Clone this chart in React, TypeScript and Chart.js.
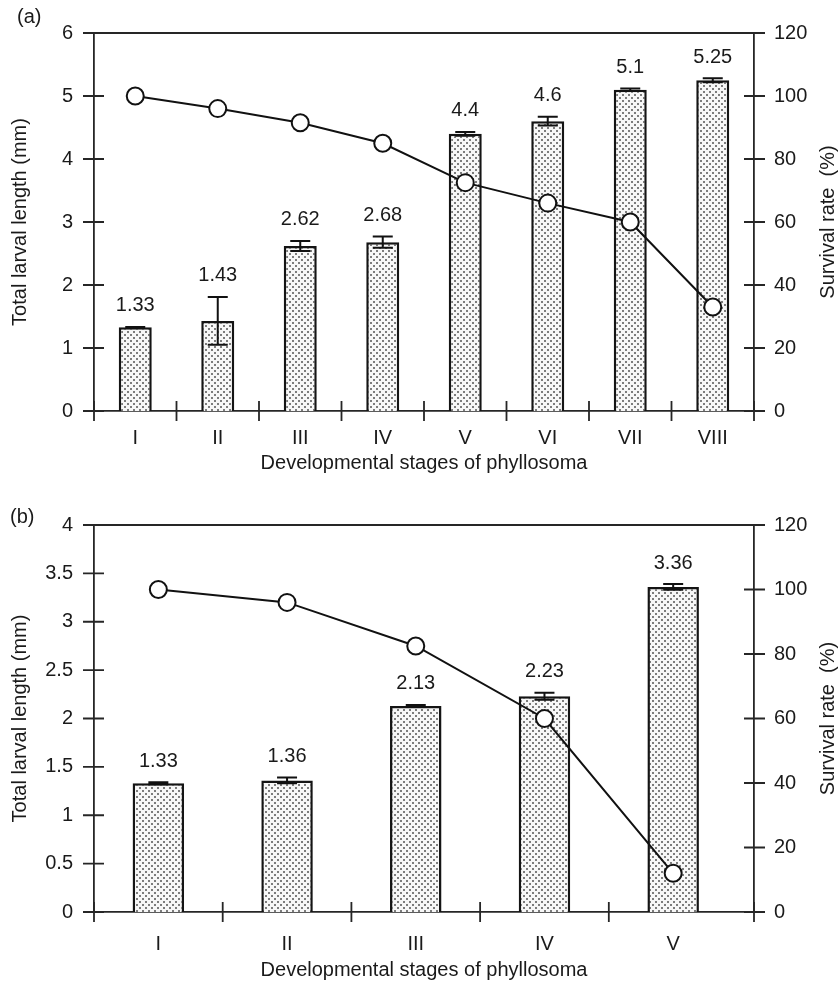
import React, { useEffect, useRef } from 'react';
import { Chart, registerables } from 'chart.js';

Chart.register(...registerables);

// ---------- data ----------
const stagesA = ['I', 'II', 'III', 'IV', 'V', 'VI', 'VII', 'VIII'];
const lengthA = [1.33, 1.43, 2.62, 2.68, 4.4, 4.6, 5.1, 5.25];
const lengthLabelsA = ['1.33', '1.43', '2.62', '2.68', '4.4', '4.6', '5.1', '5.25'];
const errorA = [0.005, 0.38, 0.08, 0.09, 0.03, 0.07, 0.02, 0.03];
const survivalA = [100, 96, 91.5, 85, 72.5, 66, 60, 33];
const leftTicksA = [0, 1, 2, 3, 4, 5, 6];

const stagesB = ['I', 'II', 'III', 'IV', 'V'];
const lengthB = [1.33, 1.36, 2.13, 2.23, 3.36];
const lengthLabelsB = ['1.33', '1.36', '2.13', '2.23', '3.36'];
const errorB = [0.01, 0.03, 0.01, 0.035, 0.03];
const survivalB = [100, 96, 82.5, 60, 12];
const leftTicksB = [0, 0.5, 1, 1.5, 2, 2.5, 3, 3.5, 4];

const rightTicks = [0, 20, 40, 60, 80, 100, 120];

const xTitle = 'Developmental stages of phyllosoma';
const yTitle = 'Total larval length (mm)';
const y2Title = 'Survival rate  (%)';

// ---------- style ----------
const FONT_FAMILY = '"Liberation Sans", Arial, Helvetica, sans-serif';
const TEXT = '#1a1a1a';
const AXIS = '#262626';
const AXIS_W = 1.8;

type Panel = {
  tag: string;
  tagX: number;
  tagY: number;
  stages: string[];
  lengths: number[];
  labels: string[];
  errors: number[];
  survival: number[];
  leftTicks: number[];
  xMax: number;
  padTop: number;
  xHeight: number;
  xLabelPad: number;
  xTitlePad: number;
};

const panelA: Panel = {
  tag: '(a)', tagX: 17, tagY: 17,
  stages: stagesA, lengths: lengthA, labels: lengthLabelsA, errors: errorA, survival: survivalA,
  leftTicks: leftTicksA, xMax: 8.5,
  padTop: 17, xHeight: 81, xLabelPad: 15, xTitlePad: 17,
};

const panelB: Panel = {
  tag: '(b)', tagX: 10, tagY: 25,
  stages: stagesB, lengths: lengthB, labels: lengthLabelsB, errors: errorB, survival: survivalB,
  leftTicks: leftTicksB, xMax: 5.628,
  padTop: 24, xHeight: 72, xLabelPad: 20, xTitlePad: 2,
};

function makePattern(): CanvasPattern | string {
  const c = document.createElement('canvas');
  c.width = 6;
  c.height = 6;
  const g = c.getContext('2d');
  if (!g) return '#ddd';
  g.fillStyle = '#f7f7f7';
  g.fillRect(0, 0, 6, 6);
  g.fillStyle = '#7c7c7c';
  g.fillRect(1, 1, 2, 2);
  g.fillRect(4, 4, 2, 2);
  const p = g.createPattern(c, 'repeat');
  return p || '#ddd';
}

function PanelChart({ panel }: { panel: Panel }) {
  const ref = useRef<HTMLCanvasElement | null>(null);

  useEffect(() => {
    const canvas = ref.current;
    if (!canvas) return;
    const font = { family: FONT_FAMILY, size: 20 };
    const n = panel.stages.length;

    const decor = {
      id: 'decor' + panel.tag,
      afterDatasetDraw(chart: any, args: any) {
        if (args.index !== 1) return;
        const ctx = chart.ctx as CanvasRenderingContext2D;
        const ys = chart.scales.y;
        const meta = chart.getDatasetMeta(1);
        ctx.save();
        ctx.strokeStyle = '#111';
        ctx.lineWidth = 2;
        ctx.beginPath();
        meta.data.forEach((el: any, i: number) => {
          const v = panel.lengths[i];
          const e = panel.errors[i];
          const t = ys.getPixelForValue(v + e);
          const b = ys.getPixelForValue(v - e);
          ctx.moveTo(el.x, t);
          ctx.lineTo(el.x, b);
          ctx.moveTo(el.x - 10, t);
          ctx.lineTo(el.x + 10, t);
          ctx.moveTo(el.x - 10, b);
          ctx.lineTo(el.x + 10, b);
        });
        ctx.stroke();
        ctx.restore();
      },
      afterDraw(chart: any) {
        const ctx = chart.ctx as CanvasRenderingContext2D;
        const { left, right, top, bottom } = chart.chartArea;
        const xs = chart.scales.x;
        const ys = chart.scales.y;
        const y2 = chart.scales.y2;
        ctx.save();
        ctx.strokeStyle = AXIS;
        ctx.lineWidth = AXIS_W;
        ctx.beginPath();
        ctx.moveTo(left, top);
        ctx.lineTo(right, top);
        panel.leftTicks.forEach((v) => {
          const py = ys.getPixelForValue(v);
          ctx.moveTo(left - 11, py);
          ctx.lineTo(left + 10, py);
        });
        rightTicks.forEach((v) => {
          const py = y2.getPixelForValue(v);
          ctx.moveTo(right - 10, py);
          ctx.lineTo(right + 11, py);
        });
        const bounds: number[] = [];
        for (let i = 0; i < n; i++) bounds.push(i + 0.5);
        bounds.push(xs.max);
        bounds.forEach((v) => {
          const px = xs.getPixelForValue(v);
          ctx.moveTo(px, bottom - 10);
          ctx.lineTo(px, bottom + 10);
        });
        ctx.stroke();

        ctx.fillStyle = TEXT;
        ctx.font = `20px ${FONT_FAMILY}`;
        ctx.textAlign = 'center';
        ctx.textBaseline = 'middle';
        const meta = chart.getDatasetMeta(1);
        meta.data.forEach((el: any, i: number) => {
          const t = ys.getPixelForValue(panel.lengths[i] + panel.errors[i]);
          ctx.fillText(panel.labels[i], el.x, t - 21);
        });

        ctx.save();
        ctx.translate(828, (top + bottom) / 2);
        ctx.rotate(-Math.PI / 2);
        ctx.fillText(y2Title, 0, 0);
        ctx.restore();

        ctx.textAlign = 'left';
        ctx.fillText(panel.tag, panel.tagX, panel.tagY);
        ctx.restore();
      },
    };

    const chart = new Chart(canvas, {
      type: 'bar',
      data: {
        datasets: [
          {
            type: 'line',
            label: 'Survival rate',
            data: panel.survival.map((v, i) => ({ x: i + 1, y: v })),
            yAxisID: 'y2',
            xAxisID: 'x',
            borderColor: '#111',
            borderWidth: 2,
            pointRadius: 8.5,
            pointBackgroundColor: '#ffffff',
            pointBorderColor: '#111',
            pointBorderWidth: 2,
            tension: 0,
            clip: false,
          } as any,
          {
            type: 'bar',
            label: 'Total larval length',
            data: panel.lengths.map((v, i) => ({ x: i + 1, y: v })),
            yAxisID: 'y',
            xAxisID: 'x',
            backgroundColor: makePattern() as any,
            borderColor: '#141414',
            borderWidth: 2.5,
            barPercentage: 0.4,
            categoryPercentage: 1,
          } as any,
        ],
      },
      options: {
        animation: false,
        responsive: false,
        maintainAspectRatio: false,
        layout: { padding: { top: panel.padTop, left: 0, right: 0, bottom: 0 } },
        plugins: {
          legend: { display: false },
          tooltip: { enabled: false },
        },
        scales: {
          x: {
            type: 'linear',
            position: 'bottom',
            min: 0.5,
            max: panel.xMax,
            bounds: 'data',
            offset: false,
            afterBuildTicks: (s: any) => {
              s.ticks = panel.stages.map((_, i) => ({ value: i + 1 }));
            },
            afterFit: (s: any) => {
              s.height = panel.xHeight;
            },
            ticks: {
              autoSkip: false,
              maxRotation: 0,
              minRotation: 0,
              padding: panel.xLabelPad,
              color: TEXT,
              font,
              callback: (v: any) => panel.stages[Math.round(Number(v)) - 1] ?? '',
            },
            grid: { display: false, drawTicks: false, offset: false },
            border: { display: true, color: AXIS, width: AXIS_W },
            title: {
              display: true,
              text: xTitle,
              color: TEXT,
              font,
              padding: { top: 0, bottom: panel.xTitlePad },
            },
          },
          y: {
            type: 'linear',
            position: 'left',
            min: 0,
            max: panel.leftTicks[panel.leftTicks.length - 1],
            afterBuildTicks: (s: any) => {
              s.ticks = panel.leftTicks.map((v) => ({ value: v }));
            },
            afterFit: (s: any) => {
              s.width = 94;
            },
            ticks: {
              padding: 21,
              color: TEXT,
              font,
              callback: (v: any) => String(v),
            },
            grid: { display: false, drawTicks: false },
            border: { display: true, color: AXIS, width: AXIS_W },
            title: {
              display: true,
              text: yTitle,
              color: TEXT,
              font,
              padding: { top: 8, bottom: 0 },
            },
          },
          y2: {
            type: 'linear',
            position: 'right',
            min: 0,
            max: 120,
            afterBuildTicks: (s: any) => {
              s.ticks = rightTicks.map((v) => ({ value: v }));
            },
            afterFit: (s: any) => {
              s.width = 86;
            },
            ticks: {
              padding: 20,
              color: TEXT,
              font,
              callback: (v: any) => String(v),
            },
            grid: { display: false, drawTicks: false },
            border: { display: true, color: AXIS, width: AXIS_W },
          },
        },
      } as any,
      plugins: [decor],
    });

    return () => {
      chart.destroy();
    };
  }, [panel]);

  return <canvas ref={ref} width={840} height={492} style={{ display: 'block', width: 840, height: 492 }} />;
}

export default function App() {
  useEffect(() => {
    document.body.style.margin = '0';
    document.body.style.background = '#ffffff';
  }, []);
  return (
    <div style={{ width: 840, height: 984, background: '#fff' }}>
      <PanelChart panel={panelA} />
      <PanelChart panel={panelB} />
    </div>
  );
}
